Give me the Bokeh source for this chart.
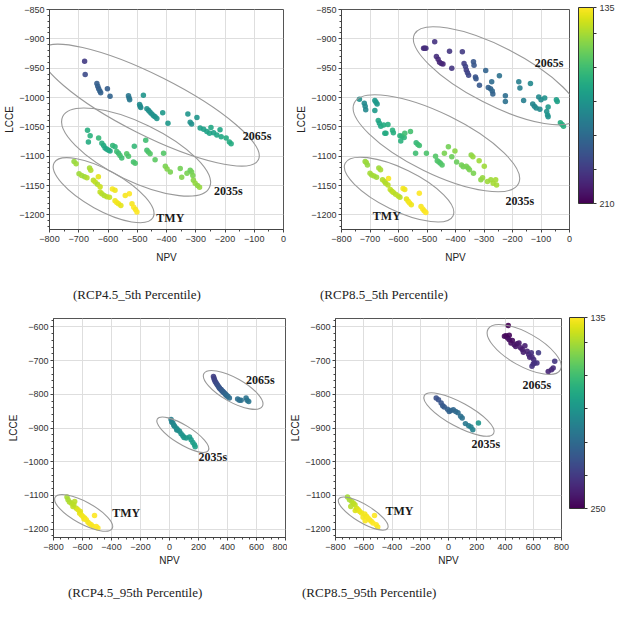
import math
from bokeh.plotting import figure
from bokeh.layouts import row, column
from bokeh.models import (ColumnDataSource, LinearColorMapper, ColorBar, SingleIntervalTicker,
                          FixedTicker, Range1d, Div)
from bokeh.palettes import Viridis256
from bokeh.transform import transform
from bokeh.core.properties import value
from bokeh.embed import file_html
from bokeh.resources import INLINE

# ---------------- data: (NPV, LCCE, colour value) ----------------
TL_TMY = [(-716,-1109,147),(-709,-1113,146),(-699,-1130,146),(-690,-1133,145),(-680,-1135,146),
          (-672,-1137,144),(-663,-1120,145),(-659,-1124,144),(-650,-1141,143),(-644,-1144,142),
          (-636,-1148,144),(-627,-1152,141),(-633,-1135,138),(-627,-1161,142),(-621,-1164,143),
          (-613,-1167,144),(-604,-1169,143),(-595,-1170,142),(-585,-1156,136),(-576,-1158,137),
          (-576,-1176,137),(-570,-1179,136),(-564,-1181,137),(-556,-1184,138),(-541,-1167,136),
          (-527,-1164,135),(-518,-1181,136),(-512,-1187,135),(-506,-1191,136),(-501,-1195,135)]
TL_2035 = [(-670,-1056,163),(-661,-1065,162),(-667,-1076,164),(-632,-1069,160),(-621,-1078,163),
           (-615,-1082,164),(-610,-1086,165),(-604,-1088,166),(-598,-1090,164),(-593,-1091,165),
           (-584,-1082,160),(-576,-1084,161),(-570,-1092,158),(-564,-1095,159),(-559,-1099,157),
           (-553,-1103,158),(-536,-1096,155),(-530,-1100,156),(-513,-1110,157),(-507,-1112,156),
           (-510,-1083,160),(-471,-1073,158),(-467,-1090,157),(-462,-1093,156),(-456,-1096,155),
           (-439,-1106,154),(-410,-1095,155),(-404,-1117,150),(-398,-1122,149),(-387,-1127,150),
           (-353,-1121,151),(-348,-1136,149),(-330,-1129,150),(-319,-1124,152),(-314,-1127,151),
           (-310,-1133,150),(-308,-1141,148),(-302,-1146,147),(-294,-1150,148),(-287,-1153,147)]
TL_2065 = [(-680,-938,197),(-678,-961,193),(-638,-976,188),(-635,-981,187),(-632,-985,188),
           (-628,-989,186),(-625,-992,187),(-602,-985,188),(-593,-998,186),(-530,-997,180),
           (-528,-1001,181),(-526,-1004,180),(-479,-996,171),(-492,-1012,174),(-490,-1015,173),
           (-488,-1017,174),(-467,-1019,172),(-461,-1022,173),(-456,-1025,172),(-450,-1028,173),
           (-444,-1031,171),(-439,-1033,172),(-433,-1036,171),(-413,-1026,170),(-395,-1044,170),
           (-327,-1028,171),(-319,-1042,172),(-314,-1045,172),(-296,-1034,171),(-285,-1052,168),
           (-273,-1054,167),(-262,-1058,167),(-253,-1061,166),(-248,-1051,165),(-239,-1060,167),
           (-228,-1064,166),(-217,-1055,166),(-213,-1067,165),(-196,-1069,164),(-185,-1076,164),
           (-179,-1079,164)]

TR_TMY = [(-717,-1109,147),(-713,-1111,146),(-709,-1115,147),(-700,-1129,145),(-694,-1132,146),
          (-686,-1134,145),(-677,-1136,146),(-669,-1120,146),(-663,-1123,145),(-656,-1140,144),
          (-649,-1143,143),(-645,-1146,144),(-637,-1149,143),(-635,-1138,136),(-629,-1157,142),
          (-623,-1160,143),(-618,-1162,142),(-610,-1165,143),(-601,-1168,142),(-595,-1170,143),
          (-584,-1155,136),(-578,-1157,137),(-572,-1173,138),(-566,-1177,137),(-561,-1180,136),
          (-555,-1183,137),(-527,-1163,135),(-521,-1186,136),(-515,-1190,135),(-510,-1193,136),
          (-504,-1196,135)]
TR_2035 = [(-737,-1003,172),(-720,-1010,174),(-717,-1015,175),(-715,-1021,175),(-683,-1005,170),
           (-679,-1008,169),(-675,-1011,170),(-683,-1022,169),(-671,-1039,165),(-667,-1044,166),
           (-662,-1049,165),(-652,-1047,164),(-648,-1061,165),(-644,-1061,164),(-637,-1046,163),
           (-621,-1056,162),(-618,-1060,163),(-595,-1065,162),(-588,-1066,161),(-580,-1068,161),
           (-592,-1074,162),(-578,-1061,158),(-558,-1058,157),(-538,-1077,160),(-532,-1080,159),
           (-527,-1082,158),(-540,-1095,158),(-502,-1095,156),(-470,-1100,155),(-464,-1108,156),
           (-458,-1110,155),(-453,-1112,156),(-447,-1115,155),(-439,-1095,150),(-425,-1084,151),
           (-413,-1101,152),(-402,-1091,148),(-396,-1110,152),(-379,-1115,151),(-373,-1118,151),
           (-362,-1117,150),(-356,-1120,151),(-351,-1123,150),(-345,-1098,148),(-339,-1101,147),
           (-337,-1129,150),(-317,-1108,146),(-311,-1140,148),(-305,-1137,147),(-299,-1117,146),
           (-288,-1143,146),(-276,-1140,146),(-268,-1146,145),(-259,-1140,145),(-256,-1149,145)]
TR_2065 = [(-512,-916,200),(-508,-916,201),(-504,-916,200),(-473,-905,199),(-467,-930,200),
           (-461,-935,201),(-456,-940,202),(-450,-942,201),(-444,-943,202),(-421,-921,198),
           (-413,-950,198),(-376,-922,197),(-370,-942,196),(-365,-947,195),(-362,-953,196),
           (-358,-958,195),(-354,-962,194),(-337,-939,190),(-335,-945,190),(-330,-965,191),
           (-328,-968,190),(-316,-979,189),(-294,-954,186),(-285,-983,187),(-277,-985,186),
           (-271,-989,185),(-269,-994,186),(-273,-973,184),(-246,-963,182),(-225,-997,183),
           (-225,-1007,182),(-178,-973,178),(-174,-984,178),(-161,-1005,178),(-137,-976,175),
           (-129,-1011,176),(-123,-1015,176),(-117,-1018,175),(-108,-999,174),(-100,-1004,174),
           (-104,-1020,175),(-87,-1001,172),(-80,-1024,172),(-77,-1030,171),(-75,-1033,172),
           (-75,-1016,170),(-46,-1004,168),(-43,-1007,167),(-32,-1043,164),(-26,-1046,163),
           (-21,-1049,163)]

BL_TMY = [(-707,-1105,150),(-700,-1113,150),(-690,-1120,149),(-677,-1123,148),(-654,-1118,147),
          (-666,-1133,146),(-660,-1128,147),(-643,-1138,145),(-631,-1143,140),(-620,-1153,139),
          (-615,-1148,140),(-608,-1158,138),(-597,-1163,137),(-590,-1170,137),(-585,-1167,137),
          (-574,-1172,136),(-562,-1180,137),(-551,-1184,136),(-540,-1187,136),(-517,-1160,135),
          (-528,-1192,136),(-505,-1192,135),(-494,-1197,135)]
BL_2035 = [(11,-875,200),(15,-882,199),(23,-885,198),(30,-892,197),(34,-895,196),(46,-900,195),
           (50,-906,194),(57,-905,194),(69,-910,193),(80,-917,192),(92,-923,191),(100,-928,190),
           (115,-930,189),(138,-927,188),(149,-935,187),(161,-943,186),(172,-950,185),(177,-956,184)]
BL_2065 = [(303,-747,228),(307,-752,228),(310,-757,227),(315,-762,226),(321,-766,225),(327,-770,224),
           (333,-774,222),(340,-778,221),(344,-781,220),(350,-784,219),(356,-786,219),(362,-790,217),
           (367,-791,216),(373,-795,215),(379,-796,214),(385,-800,213),(390,-801,212),(396,-805,211),
           (402,-806,210),(413,-811,209),(470,-814,208),(482,-818,208),(494,-818,207),(528,-811,206),
           (535,-818,206),(546,-821,205)]

BR_TMY = [(-715,-1105,151),(-701,-1113,150),(-692,-1133,148),(-685,-1118,148),(-673,-1123,147),
          (-662,-1128,146),(-660,-1145,141),(-650,-1138,143),(-639,-1143,140),(-628,-1148,139),
          (-616,-1152,138),(-605,-1165,137),(-593,-1155,137),(-590,-1175,136),(-581,-1162,137),
          (-570,-1167,136),(-559,-1172,136),(-547,-1177,136),(-535,-1182,135),(-524,-1160,135),
          (-512,-1187,135),(-501,-1194,136)]
BR_2035 = [(-87,-811,222),(-71,-816,221),(-52,-826,219),(-41,-834,218),(-30,-838,217),(-7,-844,215),
           (5,-851,214),(17,-848,213),(34,-846,212),(51,-851,211),(67,-855,210),(86,-865,208),
           (97,-870,207),(120,-887,204),(143,-893,202),(159,-897,200),(172,-905,199),(212,-885,190)]
BR_2065 = [(423,-596,250),(396,-628,247),(407,-626,247),(419,-633,246),(430,-625,248),(430,-638,245),
           (442,-648,245),(452,-640,246),(465,-653,244),(476,-658,243),(485,-650,244),(499,-648,242),
           (510,-662,242),(522,-667,241),(530,-675,240),(541,-656,240),(557,-672,239),(568,-682,238),
           (575,-690,238),(586,-677,234),(591,-689,236),(600,-710,235),(603,-697,235),(609,-707,234),
           (591,-717,233),(626,-707,233),(637,-677,230),(706,-732,238),(729,-727,237),(741,-722,236),
           (752,-702,232)]

# cluster annotations: ellipse (centre x, centre y, major px, minor px, tilt deg), label (x, y, text)
ELL_TL = [(-457,-1013,243,60,26.7),(-504,-1093,163,58,25.8),(-615,-1158,113,40,29.0)]
ELL_TR = [(-258,-963,183,58,27.1),(-467,-1078,183,60,26.1),(-598,-1157,120,42,26.0)]
ELL_BL = [(439,-787,67,24,29.3),(92,-920,60,19,31.7),(-592,-1152,65,22,28.6)]
ELL_BR = [(536,-667,83,33,29.4),(74,-860,79,24,28.6),(-604,-1154,57,18,30.9)]
LAB_TL = [(-90,-1065,"2065s"),(-189,-1160,"2035s"),(-387,-1206,"TMY")]
LAB_TR = [(-72,-942,"2065s"),(-174,-1176,"2035s"),(-641,-1202,"TMY")]
LAB_BL = [(627,-757,"2065s"),(298,-986,"2035s"),(-298,-1152,"TMY")]
LAB_BR = [(626,-771,"2065s"),(265,-947,"2035s"),(-347,-1145,"TMY")]

CAPTIONS = ["(RCP4.5_5th Percentile)", "(RCP8.5_5th Percentile)",
            "(RCP4.5_95th Percentile)", "(RCP8.5_95th Percentile)"]
CB_TOP = (135, 210)
CB_BOT = (135, 250)

SANS = "'Liberation Sans', Arial, sans-serif"
SERIF = "'Liberation Serif', 'Times New Roman', serif"

mapper_top = LinearColorMapper(palette=Viridis256, low=CB_TOP[1], high=CB_TOP[0])
mapper_bot = LinearColorMapper(palette=Viridis256, low=CB_BOT[1], high=CB_BOT[0])


def panel(groups, ells, labs, mapper, xr, yr, xint, yint, xminor, yminor,
          width, height, mb, xlab_standoff, cb=None):
    p = figure(width=width, height=height, x_range=Range1d(*xr), y_range=Range1d(*yr),
               output_backend="svg", toolbar_location=None,
               min_border_left=mb[0], min_border_right=mb[1],
               min_border_top=mb[2], min_border_bottom=mb[3])
    p.background_fill_color = "white"
    p.outline_line_color = "#555555"
    p.xaxis.ticker = SingleIntervalTicker(interval=xint, num_minor_ticks=xminor)
    p.yaxis.ticker = SingleIntervalTicker(interval=yint, num_minor_ticks=yminor)
    p.xaxis.axis_label = "NPV"
    p.yaxis.axis_label = "LCCE"
    for ax in (p.xaxis[0], p.yaxis[0]):
        ax.axis_label_text_font = SANS
        ax.axis_label_text_font_size = "10px"
        ax.axis_label_text_font_style = "normal"
        ax.axis_label_text_color = "#222222"
        ax.axis_label_standoff = 1
        ax.major_label_text_font = SANS
        ax.major_label_text_font_size = "9px"
        ax.major_label_text_color = "#333333"
        ax.major_label_standoff = 2
        ax.major_tick_out = 3
        ax.major_tick_in = 0
        ax.minor_tick_out = 2
        ax.minor_tick_in = 0
        ax.axis_line_color = "#444444"
        ax.major_tick_line_color = "#444444"
        ax.minor_tick_line_color = "#444444"
    p.xaxis.major_label_standoff = 3
    p.xaxis.axis_label_standoff = xlab_standoff
    p.grid.grid_line_color = "#dedede"

    for g in groups:
        src = ColumnDataSource(dict(x=[t[0] for t in g], y=[t[1] for t in g], c=[t[2] for t in g]))
        p.scatter("x", "y", source=src, size=5.5, fill_color=transform("c", mapper),
                  line_color=None, fill_alpha=0.9)

    p.ellipse(x=[e[0] for e in ells], y=[e[1] for e in ells],
              width=[e[2] for e in ells], height=[e[3] for e in ells],
              angle=[-math.radians(e[4]) for e in ells],
              width_units="screen", height_units="screen",
              fill_color=None, line_color="#999999", line_width=1.1)

    p.text(x=[l[0] for l in labs], y=[l[1] for l in labs], text=[l[2] for l in labs],
           text_font=value(SERIF), text_font_style="bold", text_font_size="12px",
           text_align="center", text_baseline="middle", text_color="#1a1a1a")

    if cb is not None:
        lo, hi, minors, bar_h, loc = cb
        bar = ColorBar(color_mapper=mapper, width=15, height=bar_h, location=loc,
                       margin=0, padding=0,
                       ticker=FixedTicker(ticks=[lo, hi], minor_ticks=minors),
                       major_label_text_font=SANS, major_label_text_font_size="9px",
                       major_label_text_color="#333333", label_standoff=3,
                       major_tick_in=0, major_tick_out=3, major_tick_line_color="#333333",
                       minor_tick_in=0, minor_tick_out=3, minor_tick_line_color="#333333",
                       bar_line_color="#333333", border_line_color=None,
                       background_fill_color=None)
        p.add_layout(bar, "right")
    return p


def caption(text, width, height, left, top):
    html = ('<div style="position:relative; left:%dpx; top:%dpx; '
            'font-family:\'Liberation Serif\',\'Times New Roman\',serif; font-size:13px; '
            'line-height:16px; color:#222222; white-space:nowrap;">%s</div>' % (left, top, text))
    return Div(text=html, width=width, height=height, margin=0)


p1 = panel([TL_TMY, TL_2035, TL_2065], ELL_TL, LAB_TL, mapper_top,
           (-800, 0), (-1225, -850), 100, 50, 2, 5,
           293, 267, (49, 10, 9, 38), 7)
p2 = panel([TR_TMY, TR_2035, TR_2065], ELL_TR, LAB_TR, mapper_top,
           (-800, 0), (-1225, -850), 100, 50, 2, 5,
           347, 267, (42, 71, 9, 38), 7,
           cb=(CB_TOP[0], CB_TOP[1], [145, 158, 171, 184, 197], 196, (9, 26)))
p3 = panel([BL_TMY, BL_2035, BL_2065], ELL_BL, LAB_BL, mapper_bot,
           (-800, 800), (-1225, -575), 200, 100, 4, 5,
           287, 264, (53, 2, 9, 36), 2)
p4 = panel([BR_TMY, BR_2035, BR_2065], ELL_BR, LAB_BR, mapper_bot,
           (-800, 800), (-1225, -575), 200, 100, 4, 5,
           353, 264, (42, 79, 9, 36), 2,
           cb=(CB_BOT[0], CB_BOT[1], [150, 170, 190, 210, 230], 191, (8, 29)))

c1 = caption(CAPTIONS[0], 293, 42, 73, 20)
c2 = caption(CAPTIONS[1], 347, 42, 27, 20)
c3 = caption(CAPTIONS[2], 287, 42, 68, 12)
c4 = caption(CAPTIONS[3], 353, 42, 15, 12)

layout = column(row(p1, p2), row(c1, c2), row(p3, p4), row(c3, c4))
open("out.html", "w").write(file_html(layout, INLINE))
